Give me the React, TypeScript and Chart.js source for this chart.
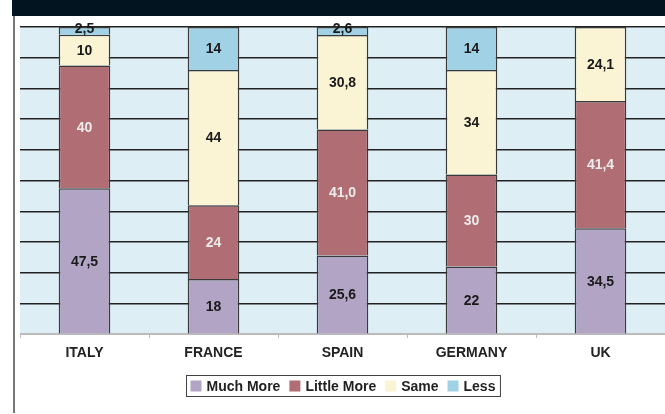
import React, { useEffect, useRef } from "react";
import { Chart, registerables } from "chart.js";

Chart.register(...registerables);

const categories = ["ITALY", "FRANCE", "SPAIN", "GERMANY", "UK"];
const muchMore = [47.5, 18, 25.6, 22, 34.5];
const littleMore = [40, 24, 41.0, 30, 41.4];
const same = [10, 44, 30.8, 34, 24.1];
const less = [2.5, 14, 2.6, 14, 0];
const oneDecimal = [false, false, true, false, true];
const seriesNames = ["Much More", "Little More", "Same", "Less"];
const yMax = 100;
const yStep = 10;

const FONT = "'Liberation Sans', Arial, sans-serif";

const fmt = (v: number, i: number) =>
  (oneDecimal[i] ? v.toFixed(1) : String(v)).replace(".", ",");

export default function App() {
  const ref = useRef<HTMLCanvasElement | null>(null);

  useEffect(() => {
    document.body.style.margin = "0";
    const canvas = ref.current;
    if (!canvas) return;

    const colors = ["#B1A4C5", "#B16D74", "#FAF4D4", "#A1D1E4"];
    const labelColors = ["#1a1a1a", "#ececec", "#1a1a1a", "#1a1a1a"];

    const bgPlugin = {
      id: "bgPlugin",
      beforeDraw(chart: any) {
        const { ctx, chartArea, width, height } = chart;
        ctx.save();
        ctx.fillStyle = "#ffffff";
        ctx.fillRect(0, 0, width, height);
        ctx.fillStyle = "#02141F";
        ctx.fillRect(12, 0, width - 12, 16);
        ctx.fillStyle = "#777777";
        ctx.fillRect(13, 16, 2, height - 17);
        ctx.fillStyle = "#DEEEF5";
        ctx.fillRect(chartArea.left, chartArea.top, chartArea.right - chartArea.left, chartArea.bottom - chartArea.top);
        ctx.restore();
      },
    };

    const labelPlugin = {
      id: "labelPlugin",
      afterDatasetsDraw(chart: any) {
        const { ctx } = chart;
        ctx.save();
        ctx.font = `bold 14px ${FONT}`;
        ctx.textAlign = "center";
        ctx.textBaseline = "middle";
        chart.data.datasets.forEach((ds: any, di: number) => {
          const meta = chart.getDatasetMeta(di);
          meta.data.forEach((bar: any, i: number) => {
            const v = ds.data[i];
            if (!v) return;
            const h = Math.abs(bar.base - bar.y);
            let y = (bar.y + bar.base) / 2;
            if (h < 14) y -= 3;
            ctx.fillStyle = labelColors[di];
            ctx.fillText(fmt(v, i), bar.x, y + 1);
          });
        });
        ctx.restore();
      },
    };

    const legendPlugin = {
      id: "customLegend",
      afterDraw(chart: any) {
        const { ctx, chartArea } = chart;
        ctx.save();
        ctx.font = `bold 14px ${FONT}`;
        const padL = 4, padR = 5, sq = 11, gap = 5, itemGap = 9;
        const widths = seriesNames.map((n) => ctx.measureText(n).width);
        let total = padL + padR;
        widths.forEach((w, i) => {
          total += sq + gap + w + (i < widths.length - 1 ? itemGap : 0);
        });
        const cx = (chartArea.left + chartArea.right) / 2;
        const left = Math.round(cx - total / 2) + 0.5;
        const top = 375.5;
        const h = 21;
        ctx.strokeStyle = "#444";
        ctx.lineWidth = 1;
        ctx.strokeRect(left, top, total, h);
        let x = left + padL;
        const cy = top + h / 2;
        seriesNames.forEach((n, i) => {
          ctx.fillStyle = colors[i];
          ctx.fillRect(x, cy - 5.5, sq, sq);
          x += sq + gap;
          ctx.fillStyle = "#222";
          ctx.textAlign = "left";
          ctx.textBaseline = "middle";
          ctx.fillText(n, x, cy + 1);
          x += widths[i] + itemGap;
        });
        ctx.restore();
      },
    };

    const seriesData = [muchMore, littleMore, same, less];

    const chart = new Chart(canvas, {
      type: "bar",
      data: {
        labels: categories,
        datasets: seriesNames.map((name, i) => ({
          label: name,
          data: seriesData[i],
          backgroundColor: colors[i],
          borderColor: "#3a3a3a",
          borderWidth: 1.5,
          borderSkipped: "bottom",
          barPercentage: 0.4,
          categoryPercentage: 1,
        })),
      },
      options: {
        animation: false,
        responsive: false,
        maintainAspectRatio: false,
        layout: { padding: { left: 20, top: 27, right: 0, bottom: 45 } },
        plugins: {
          legend: { display: false },
          tooltip: { enabled: false },
          title: { display: false },
        },
        scales: {
          x: {
            stacked: true,
            grid: {
              offset: true,
              drawOnChartArea: false,
              drawTicks: true,
              tickLength: 4,
              color: "#bbbbbb",
            },
            border: { display: true, color: "#bbbbbb" },
            ticks: {
              padding: 7,
              color: "#222",
              font: { family: FONT, size: 14, weight: "bold" },
            },
          },
          y: {
            stacked: true,
            min: 0,
            max: yMax,
            ticks: { display: false, stepSize: yStep },
            grid: {
              drawTicks: false,
              lineWidth: 1.5,
              color: (c: any) => (c.tick && c.tick.value === 0 ? "#bbbbbb" : "#222222"),
            },
            border: { display: false },
          },
        },
      },
      plugins: [bgPlugin, labelPlugin, legendPlugin],
    } as any);

    return () => chart.destroy();
  }, []);

  return (
    <div style={{ width: 665, height: 414, position: "relative" }}>
      <canvas ref={ref} width={665} height={414} style={{ display: "block" }} />
    </div>
  );
}
